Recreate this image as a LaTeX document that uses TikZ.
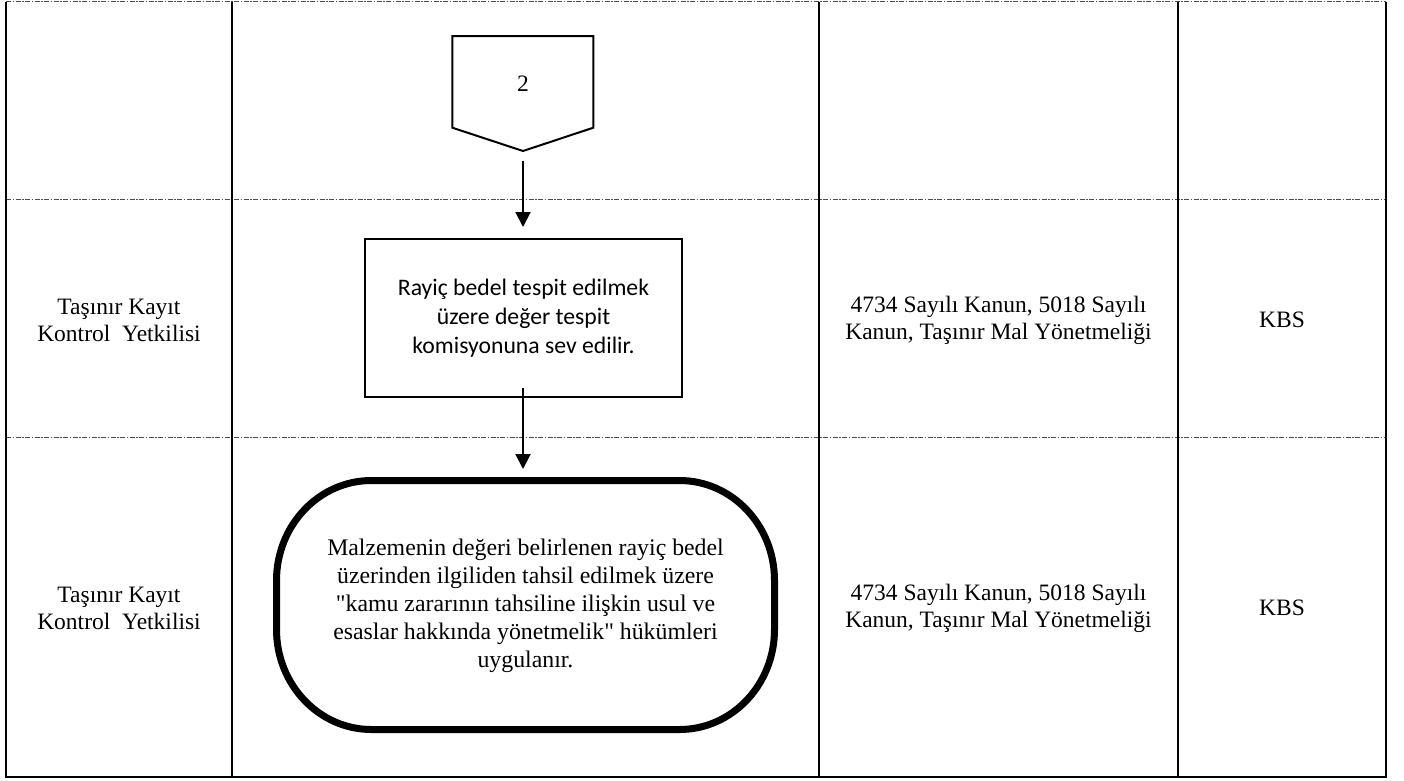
\documentclass[tikz,border=0pt]{standalone}
\usepackage{fontspec}
\setmainfont{Liberation Serif}
\newfontfamily\calibrifont{Carlito}
\usetikzlibrary{arrows.meta}
\tikzset{
  tline/.style={line width=2pt, black},
  dline/.style={line width=0.9pt, black!70, dash pattern=on 5pt off 1.5pt on 1.5pt off 1.5pt},
  celltext/.style={align=center, font=\fontsize{23.5}{27}\selectfont, inner sep=0pt},
  arr/.style={line width=2pt, -{Triangle[length=15pt,width=15pt]}},
  procbox/.style={draw, line width=2pt, minimum width=317pt, minimum height=158pt, inner sep=0pt, align=center, font=\calibrifont\fontsize{23.7}{29}\selectfont},
  termtext/.style={align=center, inner sep=0pt, font=\fontsize{23.8}{28}\selectfont}
}
\begin{document}
\begin{tikzpicture}[x=1pt,y=-1pt]
\useasboundingbox (0,0) rectangle (1404,780);
% table lines
\foreach \yy in {1.5,199,437} {\draw[dline] (6,\yy) -- (1386,\yy);}
\foreach \xx in {6,232,819,1178,1386} {\draw[tline] (\xx,1.5) -- (\xx,777);}
\draw[tline] (5,777) -- (1387,777);
% cell texts
\node[celltext] (r2a) at (119,320) {Taşınır Kayıt\\Kontrol\ \ Yetkilisi};
\node[celltext] (r2c) at (998.5,320) {4734 Sayılı Kanun, 5018 Sayılı\\Kanun, Taşınır Mal Yönetmeliği};
\node[celltext] (r2d) at (1282,320) {KBS};
\node[celltext] (r3a) at (119,608) {Taşınır Kayıt\\Kontrol\ \ Yetkilisi};
\node[celltext] (r3c) at (998.5,608) {4734 Sayılı Kanun, 5018 Sayılı\\Kanun, Taşınır Mal Yönetmeliği};
\node[celltext] (r3d) at (1282,608) {KBS};
% off-page connector
\draw[line width=2pt, line join=miter] (452.3,36) -- (593.3,36) -- (593.3,127.7) -- (523,151) -- (452.3,127.7) -- cycle;
\node[celltext] (conn) at (523,84) {2};
\coordinate (conntip) at (523,161);
% process box
\node[procbox] (box) at (523.5,318) {Rayiç bedel tespit edilmek\\üzere değer tespit\\komisyonuna sev edilir.};
% terminator
\node[termtext] (term) at (525.5,606) {Malzemenin değeri belirlenen rayiç bedel\\üzerinden ilgiliden tahsil edilmek üzere\\\textquotedbl kamu zararının tahsiline ilişkin usul ve\\esaslar hakkında yönetmelik\textquotedbl{} hükümleri\\uygulanır.};
\coordinate (termtop) at (523,480.5);
\draw[line width=7pt] (371.5,480.5) -- (679.5,480.5)
  arc[start angle=270, end angle=360, x radius=95, y radius=100]
  -- (774.5,629.5)
  arc[start angle=0, end angle=90, x radius=95, y radius=100]
  -- (371.5,729.5)
  arc[start angle=90, end angle=180, x radius=95, y radius=100]
  -- (276.5,580.5)
  arc[start angle=180, end angle=270, x radius=95, y radius=100]
  -- cycle;
% connectors
\draw[arr] (conntip) -- ([yshift=11pt]box.north -| conntip);
\draw[arr] ([yshift=10pt]box.south -| conntip) -- ([yshift=11.5pt]termtop);
\end{tikzpicture}
\end{document}
